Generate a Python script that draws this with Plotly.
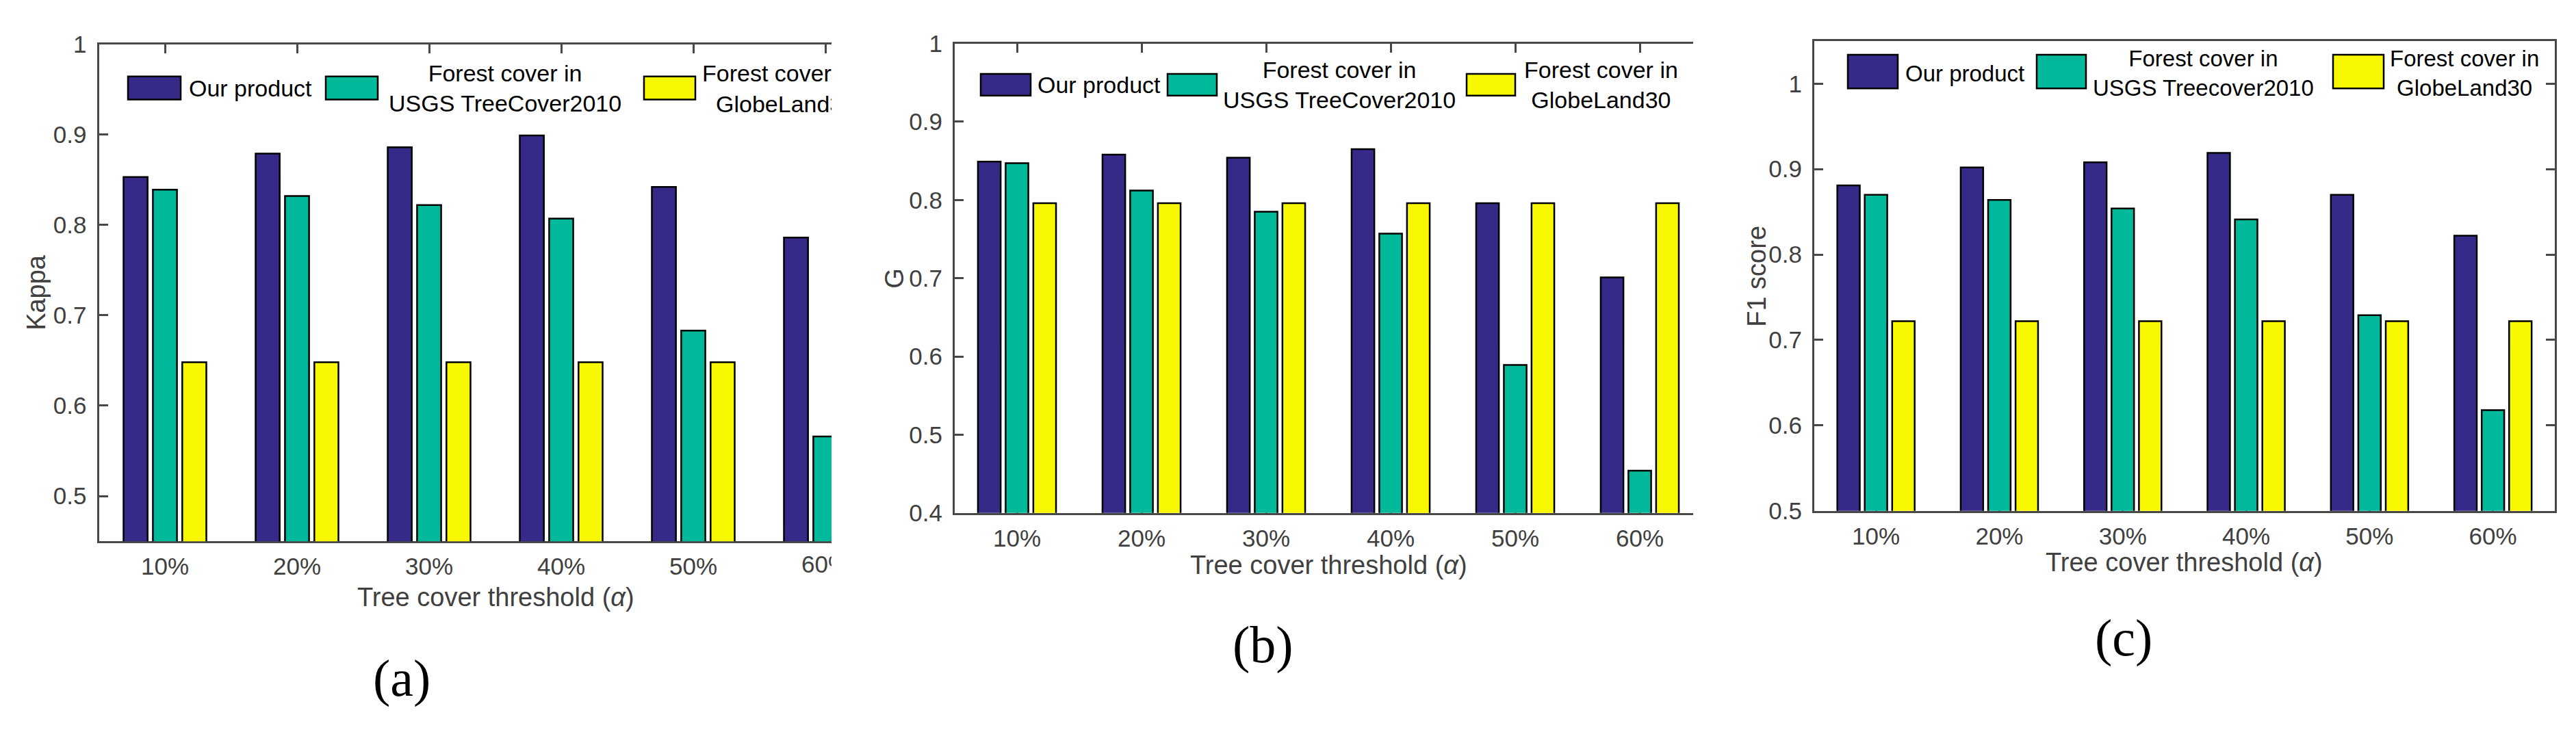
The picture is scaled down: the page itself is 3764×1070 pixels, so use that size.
"""Three grouped bar panels: Kappa, G and F1 score of forest cover products
against the tree cover threshold (alpha)."""

import plotly.graph_objects as go

W, H = 3764, 1070

# ---------------------------------------------------------------------------
# Data
# ---------------------------------------------------------------------------

CATEGORIES = ["10%", "20%", "30%", "40%", "50%", "60%"]
X_POS = [1, 2, 3, 4, 5, 6]

SERIES_NAMES = ["Our product", "Forest cover in<br>USGS TreeCover2010",
                "Forest cover in<br>GlobeLand30"]
SERIES_NAMES_C = ["Our product", "Forest cover in<br>USGS Treecover2010",
                  "Forest cover in<br>GlobeLand30"]
SERIES_COLORS = ["#352A87", "#00B89A", "#F8F800"]

KAPPA_OURS = [0.853, 0.879, 0.886, 0.899, 0.842, 0.786]
KAPPA_USGS = [0.839, 0.832, 0.822, 0.807, 0.683, 0.566]
KAPPA_GLOBELAND = [0.648, 0.648, 0.648, 0.648, 0.648, 0.648]

G_OURS = [0.849, 0.858, 0.854, 0.865, 0.796, 0.701]
G_USGS = [0.847, 0.812, 0.785, 0.757, 0.589, 0.454]
G_GLOBELAND = [0.796, 0.796, 0.796, 0.796, 0.796, 0.796]

F1_OURS = [0.881, 0.902, 0.908, 0.919, 0.870, 0.822]
F1_USGS = [0.870, 0.864, 0.854, 0.841, 0.729, 0.618]
F1_GLOBELAND = [0.722, 0.722, 0.722, 0.722, 0.722, 0.722]

X_TITLE = "Tree cover threshold (<i>α</i>)"

FONT = "Liberation Sans, Arial, sans-serif"
GREY = "#404040"
AXIS_GREY = "#484848"
TICK_SIZE = 35


def px(x):
    return x / W


def py(y):
    return 1 - y / H


# pixel layout of each panel (the first two are cut off on the right)
PANELS = [
    dict(values=[KAPPA_OURS, KAPPA_USGS, KAPPA_GLOBELAND], names=SERIES_NAMES,
         ytitle="Kappa", letter="(a)", left=136.5, unit=193.0, right=1207,
         top=38, bottom=792, yrange=[0.45, 1.0], clipped=True,
         xtitle_at=(716, 877), ytitle_at=(45, 415), letter_at=(579, 1000),
         patch_x=[(179, 256), (468, 544), (933, 1008)], patch_y=(87, 122),
         text_at=[("left", 266), ("center", 730), ("clip", 1018, 1038)],
         text_y=105, legend_size=34),
    dict(values=[G_OURS, G_USGS, G_GLOBELAND], names=SERIES_NAMES,
         ytitle="G", letter="(b)", left=1387, unit=182.0, right=2466,
         top=37, bottom=749, yrange=[0.4, 1.0], clipped=True,
         xtitle_at=(1933, 828), ytitle_at=(1299, 393), letter_at=(1837, 949),
         patch_x=[(1425, 1498), (1698, 1770), (2135, 2206)], patch_y=(83, 116),
         text_at=[("left", 1506), ("center", 1949), ("center", 2331)],
         text_y=100, legend_size=34),
    dict(values=[F1_OURS, F1_USGS, F1_GLOBELAND], names=SERIES_NAMES_C,
         ytitle="F1 score", letter="(c)", left=2643, unit=180.3, right=3725,
         top=33, bottom=746, yrange=[0.5, 1.05], clipped=False,
         xtitle_at=(3183, 824), ytitle_at=(2559, 390), letter_at=(3095, 939),
         patch_x=[(2692, 2765), (2968, 3040), (3401, 3475)], patch_y=(54, 105),
         text_at=[("left", 2774), ("center", 3211), ("center", 3593)],
         text_y=82, legend_size=33),
]

fig = go.Figure()
shapes = []
annotations = []

for i, p in enumerate(PANELS):
    n = "" if i == 0 else str(i + 1)
    xr = [0.5, 0.5 + (p["right"] - p["left"]) / p["unit"]]

    # -- Bars ----------------------------------------------------------------
    for vals, name, color in zip(p["values"], p["names"], SERIES_COLORS):
        fig.add_trace(go.Bar(
            x=X_POS, y=vals, name=name.replace("<br>", " "),
            marker=dict(color=color, line=dict(color="black", width=2.5)),
            xaxis="x" + n, yaxis="y" + n, showlegend=False,
        ))

    ticktext = list(CATEGORIES)
    if p["clipped"] and xr[1] < X_POS[-1] + 0.2:
        # last label is cut by the figure edge
        ticktext[-1] = ""
        lab_left = p["left"] + p["unit"] * (X_POS[-1] - 0.5) - 35
        annotations.append(dict(
            text=CATEGORIES[-1], xref="paper", yref="paper",
            x=px(lab_left), y=py(p["bottom"] + 35), xanchor="left",
            yanchor="middle", align="left", width=p["right"] - lab_left,
            borderpad=0, borderwidth=0, showarrow=False,
            font=dict(family=FONT, size=TICK_SIZE, color=GREY),
        ))

    fig.update_layout(**{
        "xaxis" + n: dict(
            domain=[px(p["left"]), px(p["right"])], range=xr,
            anchor="y" + n, tickmode="array", tickvals=X_POS, ticktext=ticktext,
            showline=True, linecolor=AXIS_GREY, linewidth=3,
            mirror="ticks" if p["clipped"] else True,
            ticks="inside", ticklen=13, tickwidth=3, tickcolor=AXIS_GREY,
            ticklabelstandoff=4, layer="below traces",
            showgrid=False, zeroline=False,
            tickfont=dict(family=FONT, size=TICK_SIZE, color=GREY),
        ),
        "yaxis" + n: dict(
            domain=[py(p["bottom"]), py(p["top"])], range=p["yrange"],
            anchor="x" + n, tick0=0, dtick=0.1,
            showline=True, linecolor=AXIS_GREY, linewidth=3,
            mirror=False if p["clipped"] else "ticks",
            ticks="inside", ticklen=13, tickwidth=3, tickcolor=AXIS_GREY,
            ticklabelstandoff=8, layer="below traces",
            showgrid=False, zeroline=False,
            tickfont=dict(family=FONT, size=TICK_SIZE, color=GREY),
        ),
    })

    # -- Axis titles and panel letter ----------------------------------------
    annotations.append(dict(
        text=X_TITLE, xref="paper", yref="paper",
        x=px(p["xtitle_at"][0]), y=py(p["xtitle_at"][1]),
        xanchor="center", yanchor="middle", showarrow=False,
        font=dict(family=FONT, size=38, color=GREY),
    ))
    annotations.append(dict(
        text=p["ytitle"], xref="paper", yref="paper", textangle=-90,
        x=px(p["ytitle_at"][0]), y=py(p["ytitle_at"][1]),
        xanchor="center", yanchor="middle", showarrow=False,
        font=dict(family=FONT, size=38, color=GREY),
    ))
    annotations.append(dict(
        text=p["letter"], xref="paper", yref="paper",
        x=px(p["letter_at"][0]), y=py(p["letter_at"][1]),
        xanchor="center", yanchor="middle", showarrow=False,
        font=dict(family="Liberation Serif, Times New Roman, serif",
                  size=76, color="black"),
    ))

    # -- Legend (boxed patches + centred labels) -----------------------------
    lfont = dict(family=FONT, size=p["legend_size"], color="black")
    for (x0, x1), name, color, pos in zip(p["patch_x"], p["names"],
                                          SERIES_COLORS, p["text_at"]):
        shapes.append(dict(
            type="rect", xref="paper", yref="paper",
            x0=px(x0), x1=px(x1), y0=py(p["patch_y"][1]), y1=py(p["patch_y"][0]),
            fillcolor=color, line=dict(color="black", width=2.5),
        ))
        if pos[0] == "left":
            annotations.append(dict(
                text=name, xref="paper", yref="paper",
                x=px(pos[1]), y=py(p["text_y"]), xanchor="left",
                yanchor="middle", showarrow=False, font=lfont,
            ))
        elif pos[0] == "center":
            annotations.append(dict(
                text=name, xref="paper", yref="paper", align="center",
                x=px(pos[1]), y=py(p["text_y"]), xanchor="center",
                yanchor="middle", showarrow=False, font=lfont,
            ))
        else:
            # label runs past the figure edge: one clipped box per line
            for line, left, dy in zip(name.split("<br>"), pos[1:], (-23, 24)):
                annotations.append(dict(
                    text=line, xref="paper", yref="paper", align="left",
                    x=px(left), y=py(p["text_y"] + dy), xanchor="left",
                    yanchor="middle", width=p["right"] - left,
                    borderpad=0, borderwidth=0, showarrow=False, font=lfont,
                ))

fig.update_layout(
    width=W, height=H,
    margin=dict(l=0, r=0, t=0, b=0),
    barmode="group", bargap=0.333, bargroupgap=0.18,
    paper_bgcolor="white", plot_bgcolor="white",
    showlegend=False,
    shapes=shapes, annotations=annotations,
)

fig.write_html("out.html")
